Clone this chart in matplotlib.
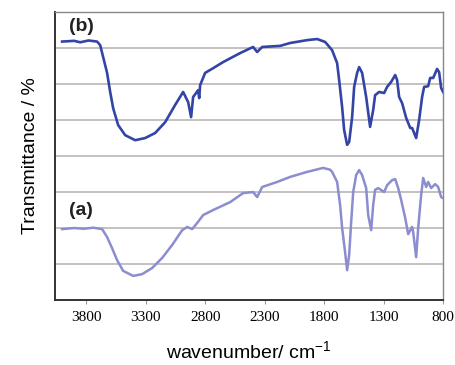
import numpy as np
import matplotlib
matplotlib.use('Agg')
import matplotlib.pyplot as plt

# Spectrum (b) - upper trace (wavenumber, transmittance)
wn_b = [4002, 3900, 3850, 3780, 3708, 3682, 3657, 3624, 3598, 3573, 3531, 3472,
        3388, 3304, 3220, 3136, 3052, 2985, 2943, 2918, 2901, 2859, 2850, 2842,
        2800, 2733, 2649, 2506, 2397, 2363, 2321, 2170, 2086, 1943, 1859, 1792,
        1733, 1691, 1674, 1649, 1632, 1607, 1590, 1565, 1548, 1523, 1506, 1481,
        1447, 1414, 1388, 1372, 1338, 1296, 1271, 1237, 1203, 1187, 1170, 1145,
        1111, 1077, 1061, 1027, 1002, 977, 960, 926, 909, 884, 851, 834, 817, 800]
t_b = [71.8, 72.0, 71.6, 72.1, 71.8, 70.8, 67.5, 63.1, 57.8, 53.3, 48.6, 45.8,
       44.4, 45.0, 46.4, 49.4, 54.2, 57.8, 55.0, 50.8, 56.4, 58.3, 56.1, 59.7,
       63.1, 64.4, 66.1, 68.6, 70.3, 68.9, 70.3, 70.6, 71.4, 72.2, 72.5, 71.7,
       69.4, 65.8, 61.1, 53.6, 47.2, 43.1, 43.9, 50.8, 59.2, 63.1, 64.7, 63.1,
       56.4, 48.1, 52.8, 56.9, 57.8, 57.5, 59.2, 60.6, 62.5, 61.1, 56.4, 54.7,
       50.6, 47.8, 47.8, 45.0, 50.0, 56.4, 59.2, 59.4, 61.7, 61.7, 64.2, 63.3, 58.9, 57.8]

# Spectrum (a) - lower trace (wavenumber, transmittance)
wn_a = [4002, 3900, 3820, 3740, 3666, 3624, 3582, 3540, 3489, 3405, 3329, 3245,
        3161, 3077, 2993, 2951, 2909, 2867, 2817, 2733, 2590, 2481, 2397, 2363,
        2321, 2195, 2086, 1943, 1808, 1750, 1733, 1691, 1666, 1649, 1624, 1607,
        1590, 1573, 1556, 1531, 1506, 1481, 1447, 1430, 1405, 1388, 1372, 1346,
        1296, 1271, 1229, 1203, 1178, 1153, 1119, 1094, 1061, 1052, 1027, 1010,
        985, 968, 943, 926, 901, 867, 842, 817, 800]
t_a = [19.7, 20.0, 19.8, 20.1, 19.7, 17.5, 14.4, 11.1, 8.1, 6.7, 7.2, 8.9,
       11.7, 15.3, 19.4, 20.3, 19.7, 21.4, 23.6, 25.0, 27.2, 29.7, 30.0, 28.6,
       31.4, 32.8, 34.2, 35.6, 36.7, 36.2, 35.6, 32.8, 26.4, 20.0, 13.3, 8.3,
       12.5, 21.7, 30.0, 34.7, 36.1, 34.7, 31.1, 23.6, 19.4, 26.4, 30.6, 31.1,
       30.0, 31.9, 33.3, 33.6, 31.1, 27.8, 22.8, 18.3, 20.3, 18.9, 11.9, 20.0,
       29.2, 33.9, 31.4, 32.8, 31.1, 32.2, 31.4, 28.6, 28.3]

xticks = [3800, 3300, 2800, 2300, 1800, 1300, 800]

fig = plt.figure(figsize=(4.55, 3.65), dpi=100)
ax = fig.add_axes([0.12, 0.178, 0.854, 0.789])

ax.plot(wn_a, t_a, color='#8c8cd0', lw=1.8, zorder=3, solid_joinstyle='round')
ax.plot(wn_b, t_b, color='#3344a6', lw=1.9, zorder=3, solid_joinstyle='round')

ax.set_xlim(4065, 800)
ax.set_ylim(0, 80)
ax.set_yticks(np.arange(10, 80, 10))
ax.yaxis.grid(True, color='#b5b0b0', lw=1.1)
ax.tick_params(axis='y', length=0, labelleft=False)
ax.set_xticks(xticks)
ax.set_xticklabels([str(v) for v in xticks], family='Liberation Serif', fontsize=11)
ax.tick_params(axis='x', direction='out', length=3, width=0.8, color='#999999', pad=5)

for side in ['left', 'bottom']:
    ax.spines[side].set_color('#333333')
    ax.spines[side].set_linewidth(1.4)
for side in ['top', 'right']:
    ax.spines[side].set_color('#888888')
    ax.spines[side].set_linewidth(1.0)

ax.text(3945, 76, '(b)', fontsize=14, fontweight='bold', family='Liberation Sans',
        ha='left', va='center', color='#222222')
ax.text(3945, 25, '(a)', fontsize=14, fontweight='bold', family='Liberation Sans',
        ha='left', va='center', color='#222222')

ax.set_ylabel('Transmittance / %', family='Liberation Sans', fontsize=14, labelpad=11)
ax.set_xlabel('wavenumber/ cm$^{\\mathregular{-1}}$', family='Liberation Sans', fontsize=14, labelpad=12)

fig.savefig('out.png', dpi=100)
